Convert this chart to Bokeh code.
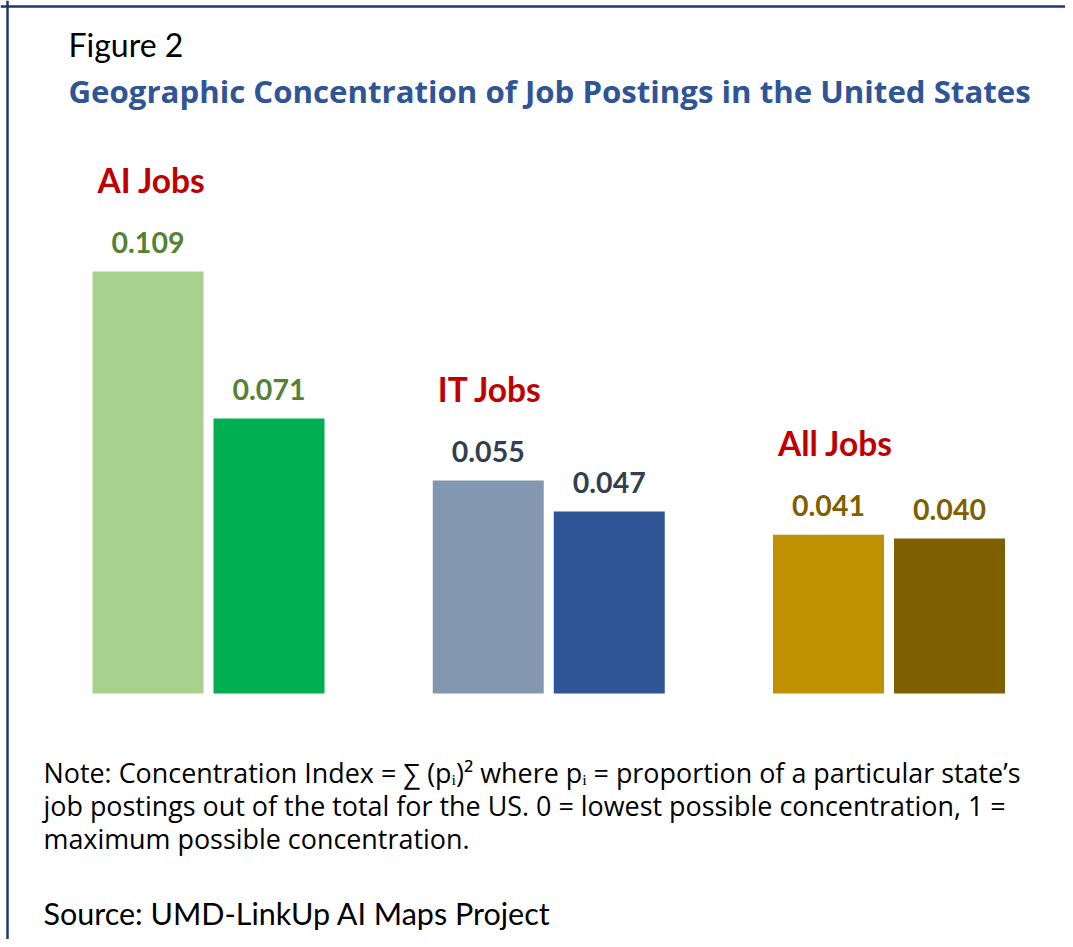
from bokeh.plotting import figure
from bokeh.models import Range1d, Label, Span, ColumnDataSource
from bokeh.core.properties import value
from bokeh.embed import file_html
from bokeh.resources import INLINE

# ---- data ----
groups = ["AI Jobs", "IT Jobs", "All Jobs"]
values_first = [0.109, 0.055, 0.041]
values_second = [0.071, 0.047, 0.040]
colors_first = ["#A9D18E", "#8497B0", "#BF9000"]
colors_second = ["#00B050", "#2F5597", "#7F6000"]
label_colors = ["#548235", "#333F50", "#7F6000"]

title_small = "Figure 2"
title_main = "Geographic Concentration of Job Postings in the United States"
note_lines = [
    "Note: Concentration Index = \u2211 (p\u1d62)\u00b2 where p\u1d62 = proportion of a particular state\u2019s",
    "job postings out of the total for the US. 0 = lowest possible concentration, 1 =",
    "maximum possible concentration.",
]
source_text = "Source: UMD-LinkUp AI Maps Project"

FONT = "Lato"
FONT2 = "Open Sans"
W, H = 1065, 939
GROUP_PX = 340.25
PX_PER_UNIT = 3872.0
BASE_CORR = 0.35  # raise text by this fraction of font size

p = figure(width=W, height=H, output_backend="svg", toolbar_location=None,
           min_border=0, x_axis_type=None, y_axis_type=None)
x0 = -208 / GROUP_PX
y0 = -(H - 693) / PX_PER_UNIT
p.x_range = Range1d(x0, x0 + W / GROUP_PX)
p.y_range = Range1d(y0, y0 + H / PX_PER_UNIT)
p.grid.visible = False
p.outline_line_color = None
p.background_fill_color = "white"
p.border_fill_color = "white"

off = 60.5 / GROUP_PX
bw = 111 / GROUP_PX
idx = list(range(len(groups)))

src1 = ColumnDataSource(dict(
    x=[i - off for i in idx], top=values_first, color=colors_first,
    lab=[f"{v:.3f}" for v in values_first], lc=label_colors))
src2 = ColumnDataSource(dict(
    x=[i + off for i in idx], top=values_second, color=colors_second,
    lab=[f"{v:.3f}" for v in values_second], lc=label_colors))
srcg = ColumnDataSource(dict(
    x=[i - off - bw / 2 + 5 / GROUP_PX for i in idx], y=values_first, g=groups))

vfs = 28.5
for s in (src1, src2):
    p.vbar(x="x", top="top", bottom=0, width=bw, fill_color="color",
           line_color=None, source=s)
    p.text(x="x", y="top", text="lab", source=s, text_color="lc",
           text_font=value(FONT), text_font_style="bold", text_font_size=f"{vfs}px",
           text_align="center", text_baseline="alphabetic",
           y_offset=-19 - BASE_CORR * vfs)

gfs = 33.5
p.text(x="x", y="y", text="g", source=srcg, text_color="#C00000",
       text_font=value(FONT), text_font_style="bold", text_font_size=f"{gfs}px",
       text_align="left", text_baseline="alphabetic", y_offset=-80 - BASE_CORR * gfs)

def lab(txt, x, yb, fs, font=FONT, color="black", style="normal"):
    p.add_layout(Label(x=x, y=H - yb + BASE_CORR * fs, x_units="screen", y_units="screen",
                       text=txt, text_font=font, text_font_size=f"{fs}px",
                       text_color=color, text_font_style=style,
                       text_baseline="alphabetic", text_align="left"))

lab(title_small, 68, 55, 32)
lab(title_main, 68, 101.7, 31.2, FONT2, "#2F5597", "bold")
for line, yb in zip(note_lines, [781.7, 814.3, 847.0]):
    lab(line, 43, yb, 26.9, FONT2)
lab(source_text, 43, 923.3, 30.5)

p.add_layout(Span(location=x0 + 7 / GROUP_PX, dimension="height",
                  line_color="#1F3864", line_width=2.5))
p.add_layout(Span(location=y0 + (H - 6) / PX_PER_UNIT, dimension="width",
                  line_color="#1F3864", line_width=2.5))

open("out.html", "w").write(file_html(p, INLINE))
